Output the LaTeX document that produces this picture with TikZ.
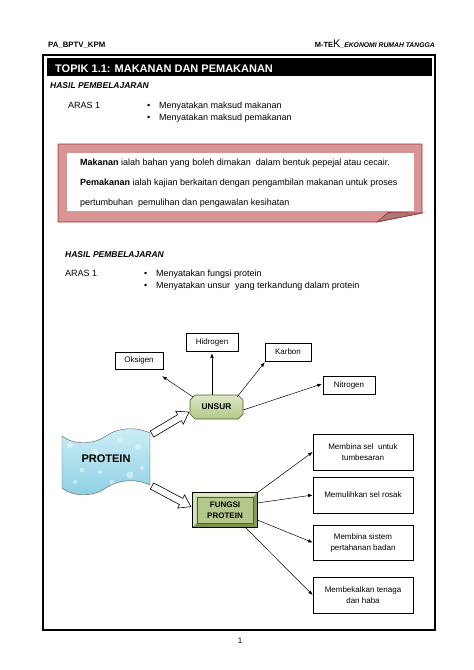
\documentclass[tikz,border=0pt]{standalone}
\usepackage{fontspec}
\setmainfont{Liberation Sans}
\usetikzlibrary{calc,arrows.meta}
\definecolor{pinkfill}{HTML}{D99594}
\definecolor{pinkline}{HTML}{943634}
\definecolor{olivelight}{HTML}{DCE7C4}
\definecolor{olivemid}{HTML}{B3C88A}
\definecolor{olivedeep}{HTML}{7D9448}
\definecolor{olivedark}{HTML}{4F6228}
\definecolor{bluelight}{HTML}{CDEFF7}
\definecolor{bluemid}{HTML}{8CCFE2}
\newcommand\proteinwave{(62,436) .. controls (75,446) and (95,444) .. (106,436) .. controls (117,428) and (135,426) .. (150,433) -- (150,485) .. controls (135,478) and (117,480) .. (106,488) .. controls (95,496) and (75,498) .. (62,488) -- cycle}
\begin{document}
\begin{tikzpicture}[x=1pt,y=-1pt,
  txt/.style={inner sep=0pt, anchor=base west, font=\fontsize{9}{11}\selectfont},
  elembox/.style={draw=black, line width=0.5pt, fill=white, inner sep=1pt, minimum width=#1, minimum height=18pt, font=\fontsize{8}{10}\selectfont},
  elembox/.default=50pt,
  fnbox/.style={draw=black, line width=0.6pt, fill=white, inner sep=1pt, minimum width=100pt, minimum height=36pt, align=center, font=\fontsize{8}{11}\selectfont},
  arr/.style={-{Latex[length=4.5pt,width=3.5pt]}, line width=0.5pt},
  blockarrow/.style={draw=black, line width=0.6pt, fill=white}
]
\fill[white] (0,0) rectangle (474,670);
\useasboundingbox (0,0) rectangle (474,670);

% headers
\node[txt, font=\bfseries\fontsize{7.8}{9}\selectfont] (hdrL) at (48,47.5) {PA\_BPTV\_KPM};
\node[txt, anchor=base east] (hdrR) at (435,47.5) {{\bfseries\fontsize{7.5}{9}\selectfont M-TE}{\fontsize{11}{12}\selectfont K}{\bfseries\itshape\fontsize{6.8}{9}\selectfont \_EKONOMI RUMAH TANGGA}};

% frame and title bar
\draw[line width=2.2pt] (43,55) rectangle (435,630);
\fill[black] (47,58) rectangle (432,76);
\node[txt, text=white, font=\bfseries\fontsize{11}{13}\selectfont] (title) at (55,72.5) {TOPIK 1.1: MAKANAN DAN PEMAKANAN};

% first learning outcome
\node[txt, font=\bfseries\itshape\fontsize{8.5}{10}\selectfont] (hasilA) at (50,88.3) {HASIL PEMBELAJARAN};
\node[txt] (arasA) at (68,108.5) {ARAS 1};
\node[txt] (bulA1) at (147,108.5) {\textbullet};
\node[txt] (itemA1) at (159,108.5) {Menyatakan maksud makanan};
\node[txt] (bulA2) at (147,120) {\textbullet};
\node[txt] (itemA2) at (159,120) {Menyatakan maksud pemakanan};

% pink definition box
\draw[pinkline, line width=0.6pt, fill=pinkfill] (58,144) -- (422,144) -- (422,213) -- (377,222) -- (58,222) -- cycle;
\fill[white] (67,153) rectangle (414,211);
\draw[pinkline, line width=0.6pt, fill=pinkfill!80!black] (377,222) -- (388,212.5) -- (422,213) -- cycle;
\node[txt, font=\fontsize{9}{10}\selectfont] (def1) at (80,165.3) {\textbf{Makanan} ialah bahan yang boleh dimakan\ \ dalam bentuk pepejal atau cecair.};
\node[txt, font=\fontsize{9}{10}\selectfont] (def2) at (80,185.5) {\textbf{Pemakanan} ialah kajian berkaitan dengan pengambilan makanan untuk proses};
\node[txt, font=\fontsize{9}{10}\selectfont] (def3) at (80,205.5) {pertumbuhan\ \ pemulihan dan pengawalan kesihatan};

% second learning outcome
\node[txt, font=\bfseries\itshape\fontsize{8.5}{10}\selectfont] (hasilB) at (65,257) {HASIL PEMBELAJARAN};
\node[txt] (arasB) at (65,276.5) {ARAS 1};
\node[txt] (bulB1) at (144,276.5) {\textbullet};
\node[txt] (itemB1) at (156,276.5) {Menyatakan fungsi protein};
\node[txt] (bulB2) at (144,288.5) {\textbullet};
\node[txt] (itemB2) at (156,288.5) {Menyatakan unsur\ \ yang terkandung dalam protein};

% element boxes
\node[elembox=48pt, minimum height=17pt] (oksigen) at (139,360.5) {Oksigen};
\node[elembox=52pt] (hidrogen) at (212,342) {Hidrogen};
\node[elembox=46pt] (karbon) at (288,352) {Karbon};
\node[elembox=52pt] (nitrogen) at (349,385) {Nitrogen};

% UNSUR (octagon with small cut corners)
\shade[top color=olivelight, bottom color=olivemid, draw=olivedark, line width=0.7pt]
  (195,395) -- (238,395) -- (243,400) -- (243,414) -- (238,419) -- (195,419) -- (190,414) -- (190,400) -- cycle;
\node[minimum width=53pt, minimum height=24pt, inner sep=0pt,
      font=\bfseries\fontsize{8.3}{10}\selectfont] (unsur) at (216.5,407) {UNSUR};

% PROTEIN wave banner
\shade[top color=bluelight, bottom color=bluemid] \proteinwave;
\begin{scope}
\clip \proteinwave;
\foreach \cx/\cy/\r in {70/445/3,82/470/2.5,95/452/3.5,120/440/2.5,138/447/3,130/475/3.5,75/482/2,112/482/2.5,142/468/2,100/472/2,88/440/2,128/458/2}
  \fill[white, opacity=0.45] (\cx,\cy) circle (\r);
\end{scope}
\draw[gray!70!black, line width=0.4pt] \proteinwave;
\node[font=\bfseries\fontsize{11}{13}\selectfont] (protein) at (106,459) {PROTEIN};

% hollow block arrows
\begin{scope}[shift={(152,434)}, rotate=30.7]
\draw[blockarrow] (0,-3.5) -- (32,-3.5) -- (32,-7.5) -- (43,0) -- (32,7.5) -- (32,3.5) -- (0,3.5) -- cycle;
\end{scope}
\begin{scope}[shift={(152,486)}, rotate=-28]
\draw[blockarrow] (0,-3.5) -- (33,-3.5) -- (33,-7.5) -- (44,0) -- (33,7.5) -- (33,3.5) -- (0,3.5) -- cycle;
\end{scope}

% FUNGSI PROTEIN bevel box
\node[draw=black, line width=0.6pt, fill=olivemid, minimum width=64pt, minimum height=34pt, inner sep=0pt,
      align=center, font=\bfseries\fontsize{8}{11}\selectfont] (fungsi) at (225,510) {FUNGSI\\PROTEIN};
\fill[olivelight] (fungsi.north west) -- (fungsi.north east) -- ($(fungsi.north east)+(-4,4)$) -- ($(fungsi.north west)+(4,4)$) -- cycle;
\fill[olivelight!85!olivemid] (fungsi.north west) -- ($(fungsi.north west)+(4,4)$) -- ($(fungsi.south west)+(4,-4)$) -- (fungsi.south west) -- cycle;
\fill[olivedeep] (fungsi.south west) -- (fungsi.south east) -- ($(fungsi.south east)+(-4,-4)$) -- ($(fungsi.south west)+(4,-4)$) -- cycle;
\fill[olivedeep!85!olivemid] (fungsi.north east) -- ($(fungsi.north east)+(-4,4)$) -- ($(fungsi.south east)+(-4,-4)$) -- (fungsi.south east) -- cycle;
\draw[line width=0.6pt] (fungsi.north west) rectangle (fungsi.south east);
\draw[line width=0.3pt, olivedark] ($(fungsi.north west)+(4,4)$) rectangle ($(fungsi.south east)+(-4,-4)$);

% function boxes
\node[fnbox] (f1) at (363,452) {Membina sel\ \ untuk\\tumbesaran};
\node[fnbox] (f2) at (363,495) {Memulihkan sel rosak};
\node[fnbox, minimum height=35pt] (f3) at (363,542.5) {Membina sistem\\pertahanan badan};
\node[fnbox] (f4) at (363,595) {Membekalkan tenaga\\dan haba};

% connectors from UNSUR
\draw[arr] ($(unsur.north west)+(3,2)$) -- ($(oksigen.south east)+(-1,7)$);
\draw[arr] (hidrogen.south |- unsur.north) -- ($(hidrogen.south)+(0,2)$);
\draw[arr] ($(unsur.north east)+(-6,2)$) -- ($(karbon.south west)+(0,1)$);
\draw[arr] ($(unsur.east)+(0,3)$) -- ($(nitrogen.west)+(-1,-1)$);

% connectors from FUNGSI PROTEIN
\draw[arr] (fungsi.north east) -- (f1.west);
\draw[arr] ($(fungsi.east)+(0,-7)$) -- (f2.west);
\draw[arr] ($(fungsi.east)+(0,10)$) -- (f3.west);
\draw[arr] ($(fungsi.south east)+(-12,0)$) -- (f4.west);

% page number
\node[txt, anchor=base, font=\fontsize{8}{10}\selectfont] (pagenum) at (240,643) {1};
\end{tikzpicture}
\end{document}
